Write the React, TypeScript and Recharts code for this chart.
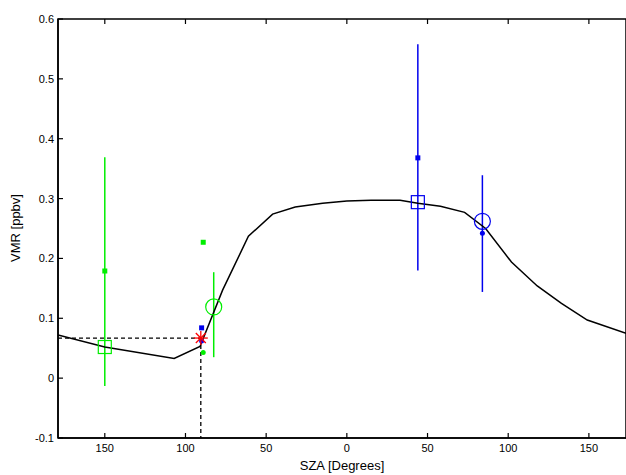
import React from 'react';
import { ComposedChart, Line, Scatter, XAxis, YAxis, ReferenceArea } from 'recharts';

const curveX = [-179, -150, -107, -91, -77, -61, -46, -32, -15, 0, 15, 33, 44, 58, 73, 86, 102, 118, 133, 149, 173];
const curveY = [0.072, 0.052, 0.033, 0.053, 0.147, 0.237, 0.274, 0.286, 0.292, 0.296, 0.297, 0.297, 0.292, 0.287, 0.277, 0.25, 0.194, 0.154, 0.125, 0.097, 0.075];
const curve = curveX.map((x, i) => ({ x, y: curveY[i] }));

const xTicks = [-150, -100, -50, 0, 50, 100, 150];
const yTicks = [-0.1, 0, 0.1, 0.2, 0.3, 0.4, 0.5, 0.6];

// error bars: [x, low, high, color]
const errBars: [number, number, number, string][] = [
  [-150, -0.013, 0.369, '#00ee00'],
  [-82.5, 0.035, 0.177, '#00ee00'],
  [44, 0.18, 0.558, '#0000ee'],
  [84, 0.144, 0.339, '#0000ee'],
];
const bigSquares = [
  { x: -150, y: 0.052, c: '#00ee00' },
  { x: 44, y: 0.294, c: '#0000ee' },
];
const bigCircles = [
  { x: -82.5, y: 0.119, c: '#00ee00' },
  { x: 84, y: 0.262, c: '#0000ee' },
];
const smallSquares = [
  { x: -150, y: 0.179, c: '#00ee00' },
  { x: -89, y: 0.227, c: '#00ee00' },
  { x: -90, y: 0.084, c: '#0000ee' },
  { x: 44, y: 0.368, c: '#0000ee' },
];
const smallDots = [
  { x: -89, y: 0.043, c: '#00ee00' },
  { x: -90, y: 0.062, c: '#0000ee' },
  { x: 84, y: 0.242, c: '#0000ee' },
];
const star = [{ x: -90.5, y: 0.067 }];
const dashH = [{ x: -179, y: 0.067 }, { x: -90.5, y: 0.067 }];
const dashV = [{ x: -90.5, y: 0.067 }, { x: -90.5, y: -0.1 }];

const PB = 438, PT = 19, PL = 58;
const font = 'Liberation Sans, Arial, sans-serif';

const XTick = (p: any) => (
  <g>
    <line x1={p.x} x2={p.x} y1={PB} y2={PB - 5} stroke="#000" strokeWidth={1.2} />
    <line x1={p.x} x2={p.x} y1={PT} y2={PT + 5} stroke="#000" strokeWidth={1.2} />
    <text x={p.x} y={PB + 14} textAnchor="middle" fontSize={11} fontFamily={font} fill="#000">{Math.abs(p.payload.value)}</text>
  </g>
);
const YTick = (p: any) => (
  <g>
    <line x1={PL} x2={PL + 5} y1={p.y} y2={p.y} stroke="#000" strokeWidth={1.2} />
    <text x={PL - 4} y={p.y + 4} textAnchor="end" fontSize={11} fontFamily={font} fill="#000">{String(Math.round(p.payload.value * 10) / 10)}</text>
  </g>
);

const sq = (size: number) => (p: any) => (
  <rect x={p.cx - size / 2} y={p.cy - size / 2} width={size} height={size} fill={size < 8 ? p.payload.c : 'none'} stroke={p.payload.c} strokeWidth={size < 8 ? 0 : 1.2} />
);
const circ = (r: number, fill: boolean) => (p: any) => (
  <circle cx={p.cx} cy={p.cy} r={r} fill={fill ? p.payload.c : 'none'} stroke={p.payload.c} strokeWidth={fill ? 0 : 1.2} />
);
const starShape = (p: any) => {
  const r = 7;
  return (
    <g stroke="#ff0000" strokeWidth={1.3}>
      <line x1={p.cx - r} x2={p.cx + r} y1={p.cy} y2={p.cy} />
      <line x1={p.cx} x2={p.cx} y1={p.cy - r} y2={p.cy + r} />
      <line x1={p.cx - 5} x2={p.cx + 5} y1={p.cy - 5} y2={p.cy + 5} />
      <line x1={p.cx - 5} x2={p.cx + 5} y1={p.cy + 5} y2={p.cy - 5} />
    </g>
  );
};

export default function App() {
  return (
    <div style={{ position: 'absolute', left: 0, top: 0, width: 626, height: 475, background: '#fff' }}>
      <ComposedChart width={626} height={475} margin={{ top: PT, left: 8, right: 0, bottom: 7 }}>
        <XAxis type="number" dataKey="x" domain={[-179, 173]} ticks={xTicks} allowDataOverflow
          tick={XTick} tickLine={false} axisLine={{ stroke: '#000', strokeWidth: 1.5 }} height={30} />
        <YAxis type="number" domain={[-0.1, 0.6]} ticks={yTicks} tick={YTick} tickLine={false}
          axisLine={{ stroke: '#000', strokeWidth: 1.5 }} width={50} allowDataOverflow />
        <ReferenceArea x1={-179} x2={173} y1={-0.1} y2={0.6} fill="none" fillOpacity={0} stroke="#000" strokeWidth={1.5} ifOverflow="visible" />
        {errBars.map((e, i) => (
          <Line key={'e' + i} data={[{ x: e[0], y: e[1] }, { x: e[0], y: e[2] }]} dataKey="y" stroke={e[3]}
            strokeWidth={1.5} dot={false} isAnimationActive={false} />
        ))}
        <Line data={dashH} dataKey="y" stroke="#000" strokeDasharray="4 3" strokeWidth={1.3} dot={false} isAnimationActive={false} />
        <Line data={dashV} dataKey="y" stroke="#000" strokeDasharray="4 3" strokeWidth={1.3} dot={false} isAnimationActive={false} />
        <Line data={curve} dataKey="y" stroke="#000" strokeWidth={1.5} dot={false} type="linear" isAnimationActive={false} />
        <Scatter data={bigSquares} dataKey="y" shape={sq(13)} isAnimationActive={false} />
        <Scatter data={bigCircles} dataKey="y" shape={circ(8, false)} isAnimationActive={false} />
        <Scatter data={smallSquares} dataKey="y" shape={sq(5)} isAnimationActive={false} />
        <Scatter data={smallDots} dataKey="y" shape={circ(2.5, true)} isAnimationActive={false} />
        <Scatter data={star} dataKey="y" shape={starShape} isAnimationActive={false} />
        <text x={342} y={470} textAnchor="middle" fontSize={13} fontFamily={font} fill="#000">SZA [Degrees]</text>
        <text x={20} y={228} textAnchor="middle" fontSize={13} fontFamily={font} fill="#000" transform="rotate(-90 20 228)">VMR [ppbv]</text>
      </ComposedChart>
    </div>
  );
}
